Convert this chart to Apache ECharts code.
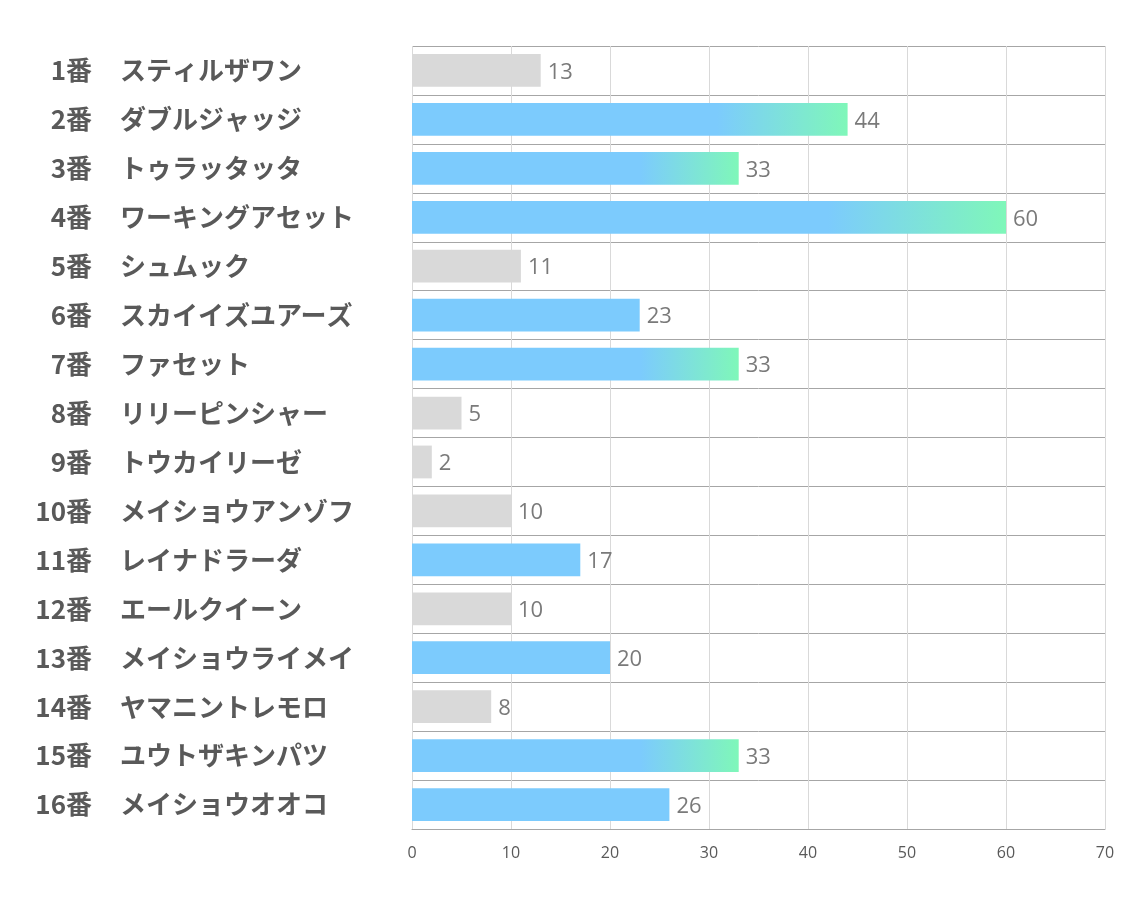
<!DOCTYPE html>
<html><head><meta charset="utf-8">
<script src="https://cdn.jsdelivr.net/npm/echarts@6/dist/echarts.min.js"></script>
<style>html,body{margin:0;padding:0;background:#fff}#c{width:1134px;height:907px}</style>
</head><body><div id="c"></div>
<script>
const numbers = ['1番','2番','3番','4番','5番','6番','7番','8番','9番','10番','11番','12番','13番','14番','15番','16番'];
const names = ['スティルザワン','ダブルジャッジ','トゥラッタッタ','ワーキングアセット','シュムック','スカイイズユアーズ','ファセット','リリーピンシャー','トウカイリーゼ','メイショウアンゾフ','レイナドラーダ','エールクイーン','メイショウライメイ','ヤマニントレモロ','ユウトザキンパツ','メイショウオオコ'];
const values = [13,44,33,60,11,23,33,5,2,10,17,10,20,8,33,26];
const xTicks = [0,10,20,30,40,50,60,70];

const GRAY = '#d9d9d9', BLUE = '#7ccbfd', GREEN = '#7ff7b9';
function colorFor(v){
  if (v < 15) return GRAY;
  if (v < 30) return BLUE;
  return new echarts.graphic.LinearGradient(0,0,1,0,[
    {offset:0,color:BLUE},{offset:0.7,color:BLUE},{offset:1,color:GREEN}
  ]);
}
const labelFont = {fontSize:26,fontWeight:'bold',color:'#595959',fontFamily:'Noto Sans CJK JP'};
const chart = echarts.init(document.getElementById('c'));
chart.setOption({
  animation:false,
  grid:{left:412,right:29,top:46,bottom:78,containLabel:false},
  xAxis:{type:'value',min:xTicks[0],max:xTicks[xTicks.length-1],interval:10,
    axisLine:{show:true,lineStyle:{color:'#a6a6a6'}},axisTick:{show:false},
    splitLine:{show:true,lineStyle:{color:'#d9d9d9',width:1}},
    axisLabel:{color:'#595959',fontSize:16,fontFamily:'Open Sans',margin:16}},
  yAxis:[
    {type:'category',data:numbers,inverse:true,position:'left',
      axisLine:{show:false},axisTick:{show:false},
      splitLine:{show:true,lineStyle:{color:'#a6a6a6',width:1}},
      axisLabel:Object.assign({margin:320,align:'right'},labelFont)},
    {type:'category',data:names,inverse:true,position:'left',offset:0,
      axisLine:{show:false},axisTick:{show:false},splitLine:{show:false},
      axisLabel:Object.assign({margin:292,align:'left'},labelFont)}
  ],
  series:[{type:'bar',yAxisIndex:0,barCategoryGap:'33%',
    data:values.map(v=>({value:v,itemStyle:{color:colorFor(v)}})),
    label:{show:true,position:'right',distance:7,color:'#7a7a7a',fontSize:22,fontFamily:'Open Sans',offset:[0,2]}}]
});
</script></body></html>
